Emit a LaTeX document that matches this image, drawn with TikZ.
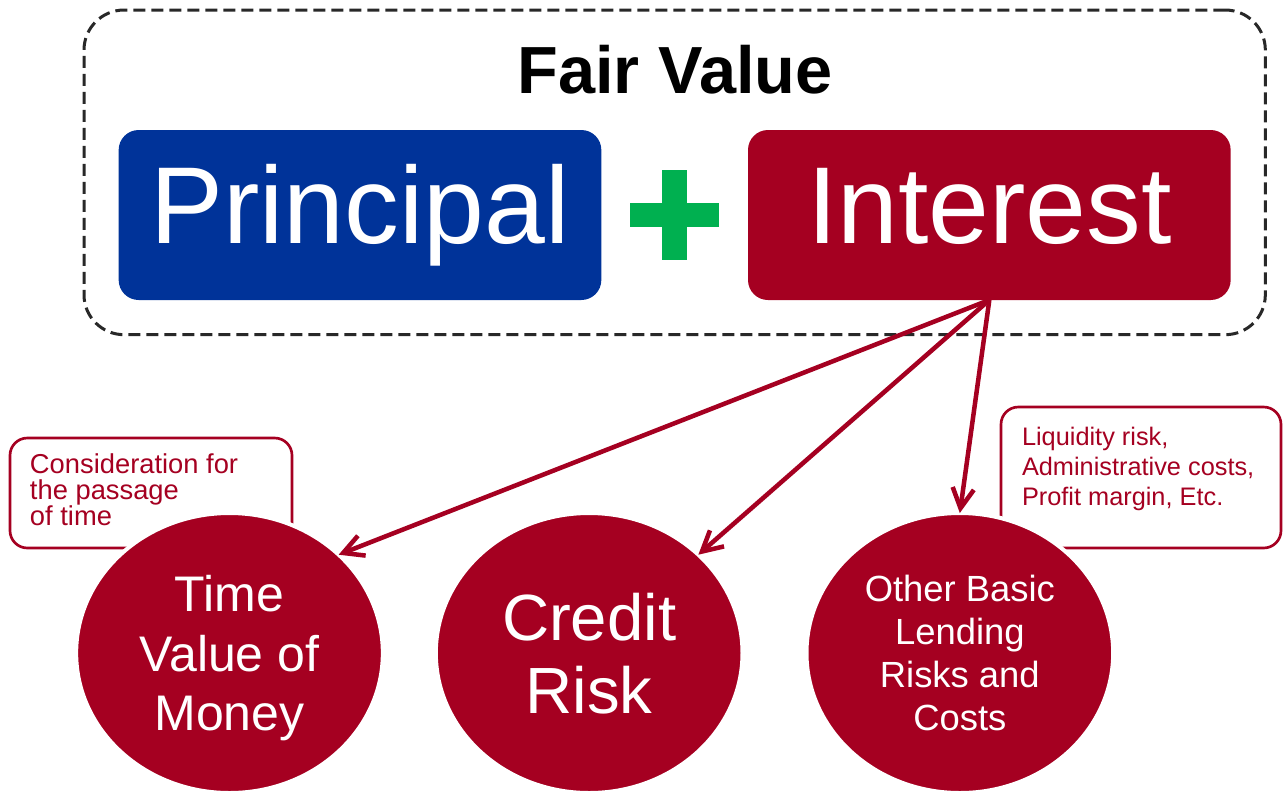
\documentclass[tikz,border=0pt]{standalone}
\usepackage{fontspec}
\setmainfont{Liberation Sans}
\usepackage{xcolor}
\usepackage{tikz}
\usetikzlibrary{positioning, arrows.meta, fit, calc, shapes.geometric}

\definecolor{fvblue}{RGB}{0,51,153}
\definecolor{fvred}{RGB}{165,0,33}
\definecolor{fvgreen}{RGB}{0,176,80}
\definecolor{fvgray}{RGB}{40,40,40}

\begin{document}
\begin{tikzpicture}[
    x=0.75pt, y=-0.75pt,
    every node/.style={inner sep=0pt, outer sep=0pt},
    bigbox/.style={rectangle, rounded corners=15pt, fill=#1, text=white, minimum width=362pt, minimum height=127.5pt,
                   font=\fontsize{82}{90}\selectfont, text height=59pt, text depth=17pt},
    part/.style={ellipse, fill=fvred, draw=white, line width=3pt, text=white, align=center,
                 minimum width=230pt, minimum height=210pt, text depth=0pt},
    plusbar/.style={rectangle, fill=fvgreen},
    notebox/.style={rectangle, draw=fvred, line width=2pt, rounded corners=13pt, fill=white},
    note/.style={text=fvred, align=left},
    arr/.style={-{Straight Barb[length=15pt,width=16pt]}, line width=3.4pt, fvred},
]
\useasboundingbox (0,0) rectangle (1283,794);

% ---------- fair value = principal + interest ----------
\node[font=\fontsize{50}{60}\selectfont\bfseries, anchor=base] (title) at (675,93) {Fair Value};
\node[bigbox=fvblue] (principal) at (360,215) {Principal};
\node[bigbox=fvred, right=110pt of principal] (interest) {Interest};

\coordinate (plus) at ($(principal.east)!0.5!(interest.west)$);
\node[plusbar, minimum width=67pt, minimum height=18.5pt] (plush) at (plus) {};
\node[plusbar, minimum width=18.5pt, minimum height=67pt] (plusv) at (plus) {};

\node[draw=fvgray, line width=2.25pt, dash pattern=on 9pt off 4.5pt, rounded corners=30pt,
      fit=(title)(principal)(interest), inner sep=26pt] (frame) {};

% ---------- side notes ----------
\node[notebox, minimum width=211.5pt, minimum height=82.5pt] (tvmbox) at (151,493) {};
\node[note, font=\fontsize{20.5}{19.5}\selectfont, anchor=north west] (tvmnote)
     at ($(tvmbox.north west)+(20,16)$) {Consideration for\\the passage\\of time};

\node[notebox, minimum width=210pt, minimum height=105.75pt] (otherbox) at (1141,477.5) {};
\node[note, font=\fontsize{19}{22.5}\selectfont, anchor=north west] (othernote)
     at ($(otherbox.north west)+(21,20)$) {Liquidity risk,\\Administrative costs,\\Profit margin, Etc.};

% ---------- components of interest ----------
\node[part, font=\fontsize{37.5}{44.6}\selectfont] (tvm) at (229.5,653) {Time\\Value of\\Money};
\node[part, font=\fontsize{49}{54.75}\selectfont, right=39.75pt of tvm] (credit) {Credit\\Risk};
\node[part, font=\fontsize{27.3}{32.25}\selectfont, right=48pt of credit] (other) {Other Basic\\Lending\\Risks and\\Costs};

\draw[arr] (interest.south) -- (tvm.42);
\draw[arr] (interest.south) -- (credit.42);
\draw[arr] (interest.south) -- (other.north);

\end{tikzpicture}
\end{document}
